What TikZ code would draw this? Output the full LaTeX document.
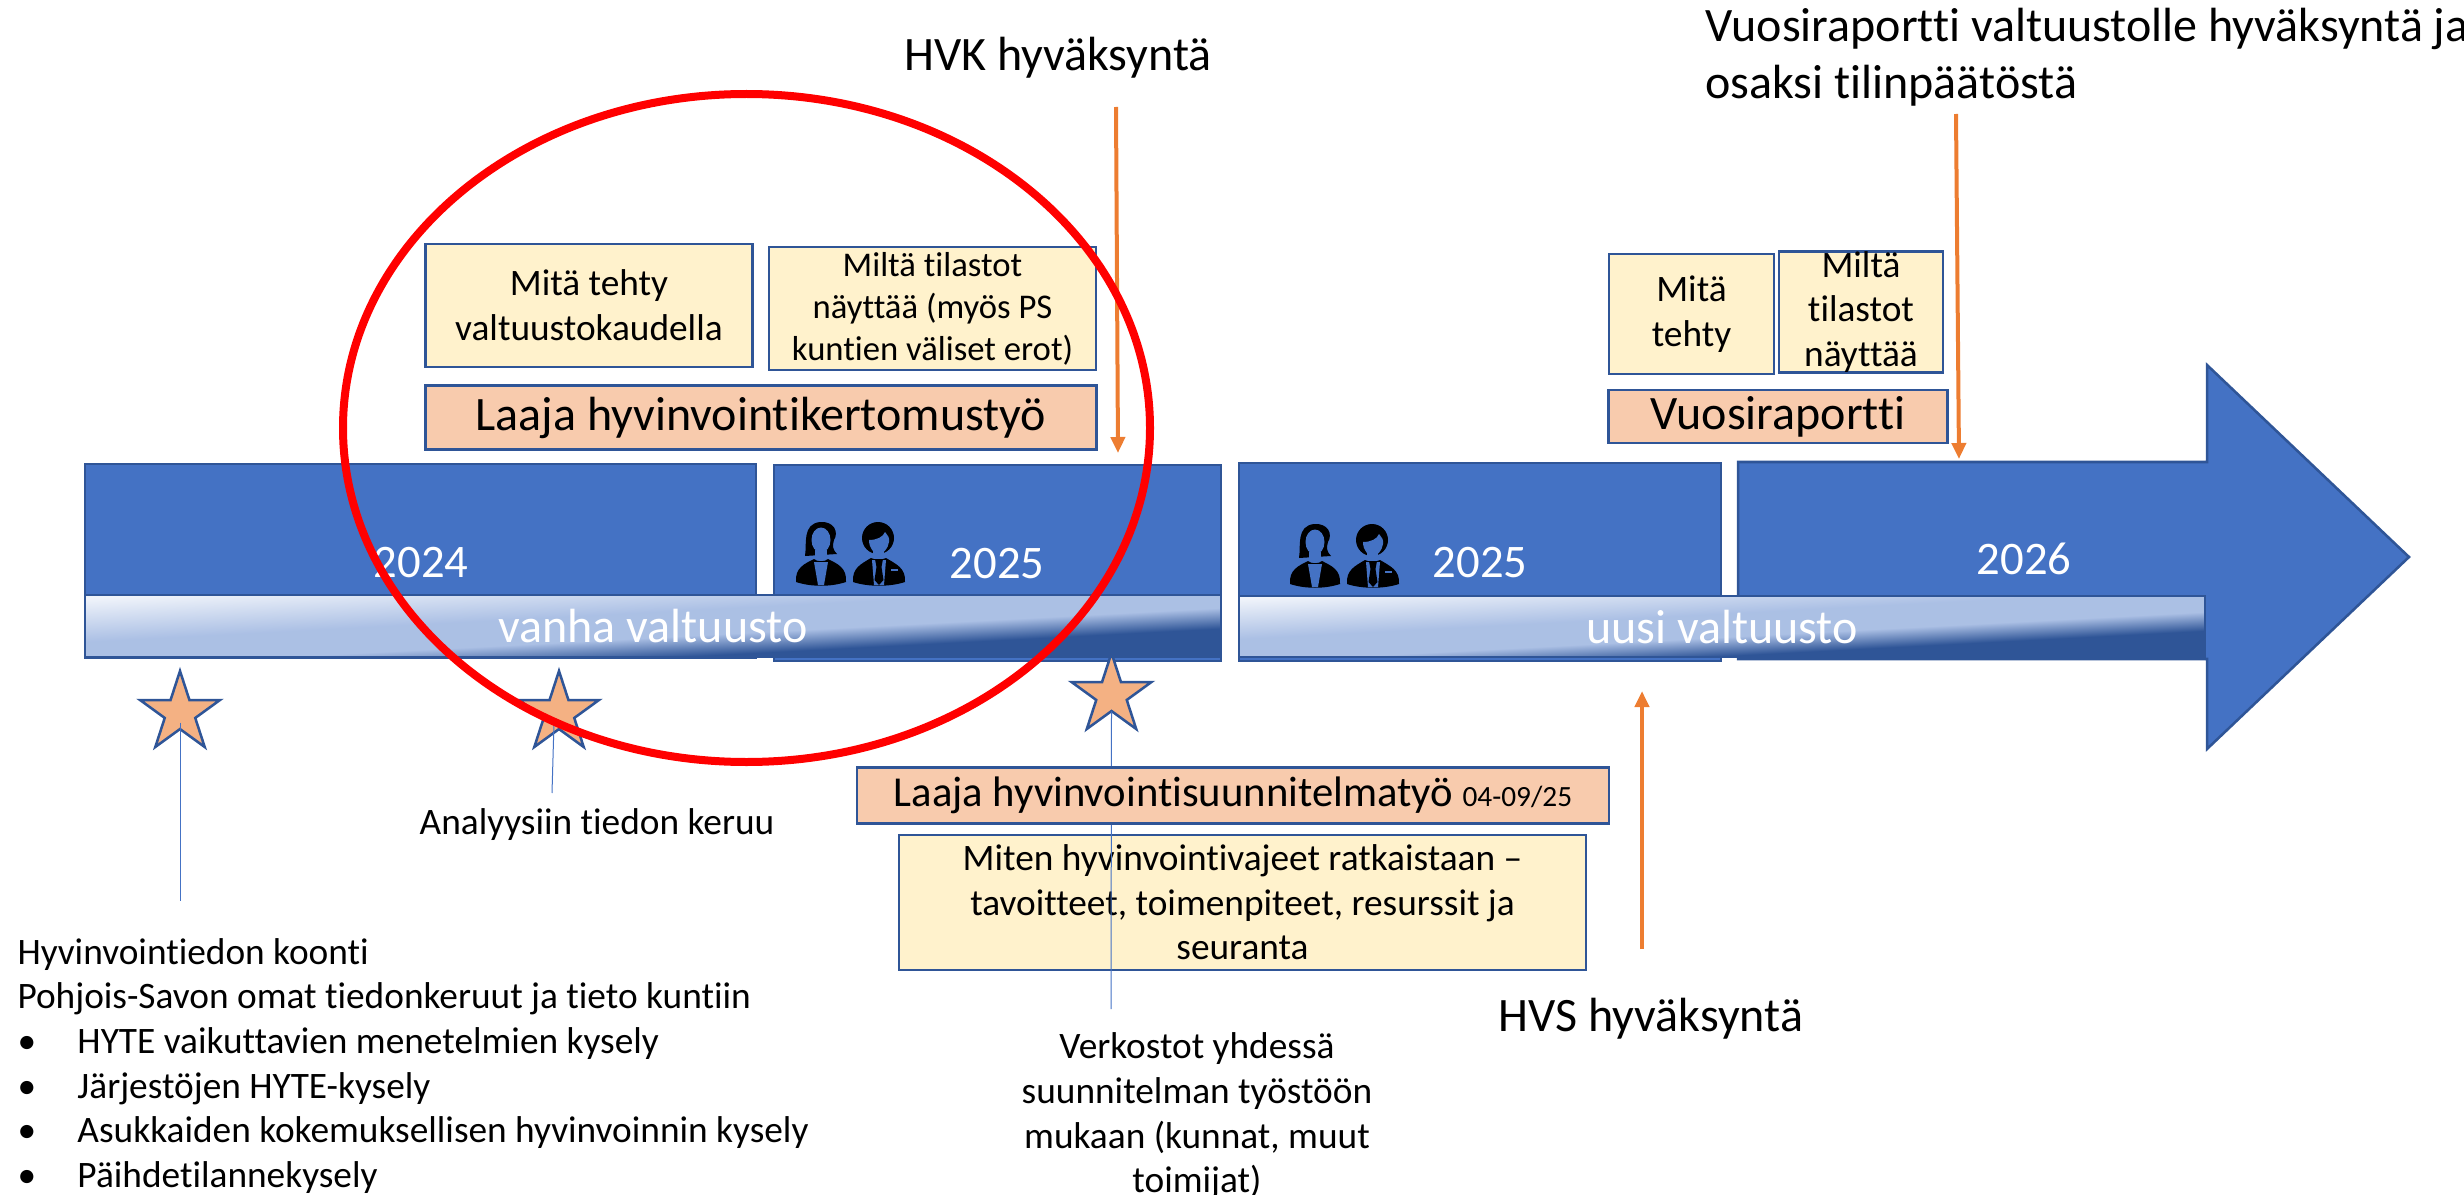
\documentclass[tikz,border=0pt]{standalone}
\usepackage{fontspec}
\setmainfont[Ligatures=NoCommon]{Carlito}
\usetikzlibrary{arrows.meta,shapes.geometric}

\definecolor{barblue}{RGB}{68,114,196}
\definecolor{edgeblue}{RGB}{47,85,151}
\definecolor{boxyellow}{RGB}{255,242,204}
\definecolor{boxorange}{RGB}{248,203,173}
\definecolor{starorange}{RGB}{244,177,131}
\definecolor{linkorange}{RGB}{237,125,49}

\pgfdeclarehorizontalshading{bannerfill}{100bp}{
	color(0bp)=(white!92!barblue);
	color(25bp)=(white!92!barblue);
	color(44bp)=(barblue!45!white);
	color(55bp)=(barblue!45!white);
	color(64bp)=(edgeblue);
	color(100bp)=(edgeblue)}

\newcommand{\bigsize}{\fontsize{36}{43}\selectfont}
\newcommand{\yearsize}{\fontsize{35}{42}\selectfont}
\newcommand{\bannersize}{\fontsize{36}{43}\selectfont}
\newcommand{\plansize}{\fontsize{32}{38}\selectfont}
\newcommand{\bodysize}{\fontsize{28}{33.5}\selectfont}
\newcommand{\tightsize}{\fontsize{26}{31.5}\selectfont}
\newcommand{\datesize}{\fontsize{22}{26}\selectfont}

\tikzset{every picture/.style={line width=0.75pt},
	barpart/.style={draw=edgeblue,fill=barblue,line width=1.9pt},
	bannerpart/.style={draw=edgeblue,shade,shading=bannerfill,shading angle=-87,line width=1.9pt},
	yellowpart/.style={draw=edgeblue,fill=boxyellow,line width=1.9pt},
	orangepart/.style={draw=edgeblue,fill=boxorange,line width=1.9pt},
	starmark/.style={star,star points=5,star point ratio=2.618,draw=edgeblue,fill=starorange,line width=1.9pt,minimum size=63pt,inner sep=0pt},
	thinlink/.style={draw=barblue,line width=0.75pt},
	orangelink/.style={draw=linkorange,line width=3pt,-{Triangle[length=12pt,width=10.5pt]}},
	yeartext/.style={text=white,font=\yearsize,anchor=base},
	bannertext/.style={text=white,font=\bannersize,anchor=base},
	bigtext/.style={font=\bigsize,anchor=base},
	bodytext/.style={font=\bodysize,align=center},
	womanicon/.pic={
		\fill[black] (9,34) .. controls (11,22) and (6,2) .. (24,0) .. controls (38,-1) and (43,10) .. (38,18) .. controls (36,24) and (37,28) .. (41,32) -- cycle;
		\fill[barblue] (25,18) ellipse [x radius=9.5,y radius=12.5];
		\fill[barblue] (19,28) rectangle (31,37);
		\fill[black] (0,60) .. controls (-1,46) and (8,42) .. (18,37) .. controls (21,40) and (29,40) .. (32,37) .. controls (42,42) and (51,46) .. (50,60) .. controls (35,65) and (15,65) .. (0,60) -- cycle;
		\fill[barblue] (18,40) -- (32,40) -- (28,63) -- (22,63) -- cycle;
	},
	manicon/.pic={
		\fill[black] (25,16) circle [radius=16];
		\fill[barblue] (16,18) .. controls (24,18) and (30,15) .. (32,10) .. controls (35,14) and (37,16) .. (36,20) .. controls (35,27) and (30,32) .. (26,32) .. controls (21,32) and (16,26) .. (16,18) -- cycle;
		\fill[barblue] (20,28) rectangle (31,37);
		\fill[black] (0,60) .. controls (-1,46) and (8,42) .. (18,36) .. controls (21,38) and (30,38) .. (33,36) .. controls (43,42) and (53,46) .. (52,60) .. controls (37,65) and (15,65) .. (0,60) -- cycle;
		\fill[barblue] (19,38) -- (33,38) -- (31,63) -- (21,63) -- cycle;
		\fill[black] (22,37) -- (30,37) -- (28.5,45) -- (30.5,58) -- (26,63) -- (21.5,58) -- (23.5,45) -- cycle;
		\fill[barblue] (38,47) rectangle (45,49);
	}}

\begin{document}
\begin{tikzpicture}[x=0.75pt,y=0.75pt,yscale=-1,xscale=1]
	\useasboundingbox (0,0) rectangle (2464,1195);

	%Shape: Rectangle
	\draw[barpart] (85,464) rectangle (756,658);
	%Shape: Rectangle
	\draw[barpart] (774,465) rectangle (1221,661);
	%Shape: Rectangle
	\draw[barpart] (1239,463) rectangle (1721,661);
	%Shape: Arrow
	\draw[barpart] (1738,462) -- (2207,462) -- (2207,365) -- (2409,557) -- (2207,749) -- (2207,659) -- (1738,659) -- cycle;
	%Shape: Gradient Rectangle
	\draw[bannerpart] (85,595) rectangle (1221,657);
	%Shape: Gradient Rectangle
	\draw[bannerpart] (1239,596) rectangle (2205,657);

	% Icons
	\pic[transform shape] at (796,522) {womanicon};
	\pic[transform shape] at (853,522) {manicon};
	\pic[transform shape] at (1290,524) {womanicon};
	\pic[transform shape] at (1347,524) {manicon};

	% Text Node
	\node[yeartext] (yearA) at (421,577) {2024};
	% Text Node
	\node[yeartext] (yearB) at (997,578) {2025};
	% Text Node
	\node[yeartext] (yearC) at (1480,577) {2025};
	% Text Node
	\node[yeartext] (yearD) at (2024,574) {2026};
	% Text Node
	\node[bannertext] (oldCouncil) at (653,642) {vanha valtuusto};
	% Text Node
	\node[bannertext] (newCouncil) at (1722,643) {uusi valtuusto};

	%Shape: Star
	\node[starmark] (starA) at (180,713) {};
	%Shape: Star
	\node[starmark] (starB) at (559,713) {};
	%Shape: Star
	\node[starmark] (starC) at (1111.5,695) {};

	% Upper boxes
	\node[yellowpart,bodytext,minimum width=245pt,minimum height=92pt,inner sep=0pt] (doneBox) at (589,305.5) {Mitä tehty\\valtuustokaudella};
	\node[yellowpart,bodytext,font=\tightsize,minimum width=245pt,minimum height=92pt,inner sep=0pt] (statsBox) at (932.5,308.5) {Miltä tilastot\\näyttää (myös PS\\kuntien väliset erot)};
	\node[orangepart,font=\bigsize,minimum width=503pt,minimum height=48pt,inner sep=0pt] (reportBox) at (761,417.5) {Laaja hyvinvointikertomustyö};
	\node[yellowpart,bodytext,minimum width=124pt,minimum height=90pt,inner sep=0pt] (doneSmall) at (1691.5,314) {\raisebox{-3pt}{Mitä}\\\raisebox{-3pt}{tehty}};
	\node[yellowpart,bodytext,minimum width=123pt,minimum height=90pt,inner sep=0pt] (statsSmall) at (1861,312) {Miltä\\tilastot\\näyttää};
	\node[orangepart,font=\bigsize,minimum width=254pt,minimum height=40pt,inner sep=0pt] (yearReport) at (1778,416.5) {Vuosiraportti};

	% Lower boxes
	\node[yellowpart,bodytext,minimum width=515pt,minimum height=101pt,inner sep=0pt] (solveBox) at (1242.5,902.5) {Miten hyvinvointivajeet ratkaistaan –\\tavoitteet, toimenpiteet, resurssit ja\\seuranta};
	\coordinate (linkCEnd) at (1111,1009);
	\coordinate (linkAEnd) at (180,901);
	\coordinate (linkBEnd) at (552,793);
	%Straight Lines
	\draw[thinlink] ([yshift=-6pt]starA.south) -- (linkAEnd);
	%Straight Lines
	\draw[thinlink] ([xshift=-3.75pt,yshift=-6pt]starB.south) -- (linkBEnd);
	%Straight Lines
	\draw[thinlink] ([yshift=-1pt]starC.south) -- (linkCEnd);
	\node[orangepart,minimum width=564pt,minimum height=42pt,inner sep=0pt] (planBox) at (1233,795.5) {\plansize Laaja hyvinvointisuunnitelmatyö \datesize 04-09/25};

	% Text Node
	\node[bigtext] (hvkLabel) at (1058,71) {HVK hyväksyntä};
	% Text Node
	\node[bigtext] (hvsLabel) at (1651,1031) {HVS hyväksyntä};
	% Text Node
	\node[bigtext,anchor=base west,inner sep=0pt] (councilLabel) at (1705,42) {Vuosiraportti valtuustolle hyväksyntä ja};
	% Text Node
	\node[bigtext,anchor=base west,inner sep=0pt] (councilLabelB) at (1705,99) {osaksi tilinpäätöstä};
	% Text Node
	\node[font=\bodysize,anchor=base] (analysisLabel) at (597,834) {Analyysiin tiedon keruu};
	% Text Node
	\node[bodytext] (networkLabel) at (1197,1116) {Verkostot yhdessä\\suunnitelman työstöön\\mukaan (kunnat, muut\\toimijat)};
	% Text Node
	\node[font=\bodysize,align=left,anchor=west,inner sep=0pt] (dataLabel) at (17,1066) {Hyvinvointiedon koonti\\Pohjois-Savon omat tiedonkeruut ja tieto kuntiin\\\makebox[45pt][l]{•}HYTE vaikuttavien menetelmien kysely\\\makebox[45pt][l]{•}Järjestöjen HYTE-kysely\\\makebox[45pt][l]{•}Asukkaiden kokemuksellisen hyvinvoinnin kysely\\\makebox[45pt][l]{•}Päihdetilannekysely};

	\coordinate (hvkStart) at (1116,107);
	\coordinate (hvkTip) at (1118,453);
	\coordinate (councilStart) at (1956,114);
	\coordinate (councilTip) at (1959,459);
	\coordinate (hvsStart) at (1642,949);
	\coordinate (hvsTip) at (1642,691);
	%Straight Lines
	\draw[orangelink] (hvkStart) -- (hvkTip);
	%Straight Lines
	\draw[orangelink] (councilStart) -- (councilTip);
	%Straight Lines
	\draw[orangelink] (hvsStart) -- (hvsTip);

	%Shape: Ellipse
	\draw[red,line width=6pt] (746.5,428) ellipse [x radius=403.5,y radius=334];
\end{tikzpicture}
\end{document}
